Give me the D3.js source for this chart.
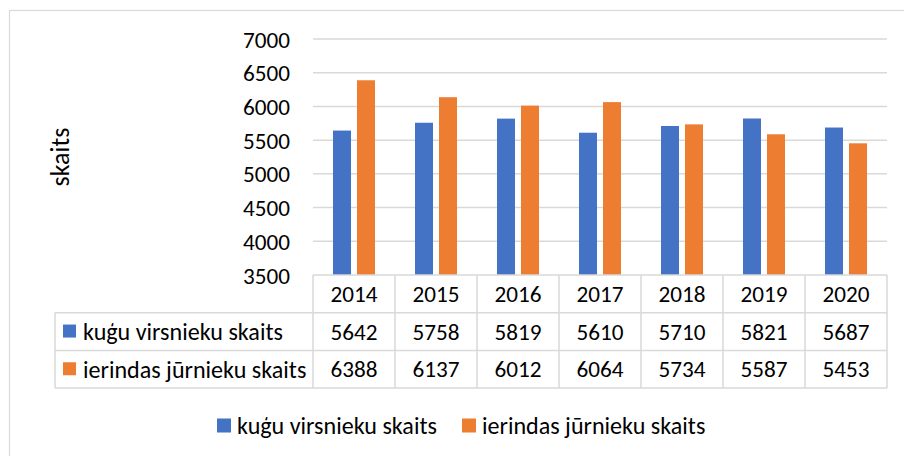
<!DOCTYPE html>
<html>
<head>
<meta charset="utf-8">
<script src="https://cdn.jsdelivr.net/npm/d3@7"></script>
<style>
  html, body { margin: 0; padding: 0; background: #fff; }
  text { font-family: Carlito, Calibri, Lato, "Open Sans", sans-serif; fill: #000; }
</style>
</head>
<body>
<svg id="chart" width="904" height="456"></svg>
<script>
const years = ["2014", "2015", "2016", "2017", "2018", "2019", "2020"];
const seriesNames = ["kuģu virsnieku skaits", "ierindas jūrnieku skaits"];
const officers = [5642, 5758, 5819, 5610, 5710, 5821, 5687];
const ratings = [6388, 6137, 6012, 6064, 5734, 5587, 5453];
const yTicks = [3500, 4000, 4500, 5000, 5500, 6000, 6500, 7000];
const colors = ["#4472c4", "#ed7d31"];
const axisTitle = "skaits";

const seriesValues = [officers, ratings];

const svg = d3.select("#chart");
const W = 904, H = 456;
const plotL = 313, plotR = 887, plotT = 39, plotB = 275;
const rowH = 37.7;
const tableL = 55;
const gridColor = "#d9d9d9";

// calibrate font sizes to match reference text widths
function fitSize(str, target) {
  const t = svg.append("text").style("font-size", "20px").text(str);
  const w = t.node().getComputedTextLength();
  t.remove();
  return 20 * target / w;
}
const fsText = fitSize(seriesNames[0], 200);
const fsNum = fitSize("7000", 47);
const fsTitle = fitSize(axisTitle, 59);

svg.append("rect").attr("width", W).attr("height", H).attr("fill", "#fff");
// outer chart border
svg.append("rect").attr("x", 9.5).attr("y", 10.5).attr("width", W).attr("height", H)
  .attr("fill", "none").attr("stroke", gridColor).attr("stroke-width", 1.2);

const x = d3.scaleBand().domain(years).range([plotL, plotR]).paddingInner(0).paddingOuter(0);
const bw = x.bandwidth();
const x1 = d3.scaleBand().domain(seriesNames).range([bw * 0.244, bw * 0.756]).paddingInner(0.25).paddingOuter(0);
const y = d3.scaleLinear().domain([3500, 7000]).range([plotB, plotT]);

// gridlines
svg.append("g").selectAll("line").data(yTicks.filter(t => t !== 3500)).join("line")
  .attr("x1", plotL).attr("x2", plotR)
  .attr("y1", d => y(d)).attr("y2", d => y(d))
  .attr("stroke", gridColor).attr("stroke-width", 1.5);

// y axis tick labels
const yAxis = d3.axisLeft(y).tickValues(yTicks).tickSize(0).tickPadding(0).tickFormat(d3.format("d"));
const gy = svg.append("g").attr("transform", `translate(${plotL - 23},0)`).call(yAxis);
gy.select(".domain").remove();
gy.selectAll("text").style("font-size", fsNum + "px").attr("dy", "0.35em")
  .style("font-family", "Carlito, Calibri, Lato, 'Open Sans', sans-serif").attr("fill", "#000");

// bars
const rows = years.map((yr, i) => ({ year: yr, vals: seriesValues.map((s, k) => ({ name: seriesNames[k], v: s[i], k })) }));
const groups = svg.append("g").selectAll("g").data(rows).join("g")
  .attr("transform", d => `translate(${x(d.year)},0)`);
groups.selectAll("rect").data(d => d.vals).join("rect")
  .attr("x", d => x1(d.name))
  .attr("width", x1.bandwidth())
  .attr("y", d => y(d.v))
  .attr("height", d => y(3500) - y(d.v))
  .attr("fill", d => colors[d.k]);

// data table
const tg = svg.append("g");
const tableB = plotB + rowH * 3;
const hl = (x1_, x2_, yy) => tg.append("line").attr("x1", x1_).attr("x2", x2_).attr("y1", yy).attr("y2", yy)
  .attr("stroke", gridColor).attr("stroke-width", 1.5);
const vl = (xx, y1_, y2_) => tg.append("line").attr("x1", xx).attr("x2", xx).attr("y1", y1_).attr("y2", y2_)
  .attr("stroke", gridColor).attr("stroke-width", 1.5);
hl(plotL, plotR, plotB);
for (let r = 1; r <= 3; r++) hl(tableL, plotR, plotB + rowH * r);
vl(tableL, plotB + rowH, tableB);
years.forEach(yr => vl(x(yr), plotB, tableB));
vl(plotR, plotB, tableB);

// header year labels
tg.selectAll("text.yr").data(years).join("text").attr("class", "yr")
  .attr("x", d => x(d) + bw / 2).attr("y", plotB + rowH / 2).attr("dy", "0.35em")
  .attr("text-anchor", "middle").style("font-size", fsNum + "px").text(d => d);

// value rows
seriesValues.forEach((vals, k) => {
  const cy = plotB + rowH * (k + 1) + rowH / 2;
  tg.append("g").selectAll("text").data(vals).join("text")
    .attr("x", (d, i) => x(years[i]) + bw / 2).attr("y", cy).attr("dy", "0.35em")
    .attr("text-anchor", "middle").style("font-size", fsNum + "px").text(d => d);
  tg.append("rect").attr("x", 63).attr("y", cy - 7).attr("width", 13).attr("height", 13).attr("fill", colors[k]);
  tg.append("text").attr("x", 83).attr("y", cy).attr("dy", "0.35em")
    .style("font-size", fsText + "px").text(seriesNames[k]);
});

// y axis title
svg.append("text").attr("transform", `translate(69,${(plotT + plotB) / 2}) rotate(-90)`)
  .attr("text-anchor", "middle").style("font-size", fsTitle + "px").text(axisTitle);

// legend
const leg = svg.append("g");
const legX = [217, 462];
seriesNames.forEach((n, k) => {
  leg.append("rect").attr("x", legX[k]).attr("y", 418.5).attr("width", 14).attr("height", 14).attr("fill", colors[k]);
  leg.append("text").attr("x", legX[k] + 20).attr("y", 425.5).attr("dy", "0.35em")
    .style("font-size", fsText + "px").text(n);
});
</script>
</body>
</html>
